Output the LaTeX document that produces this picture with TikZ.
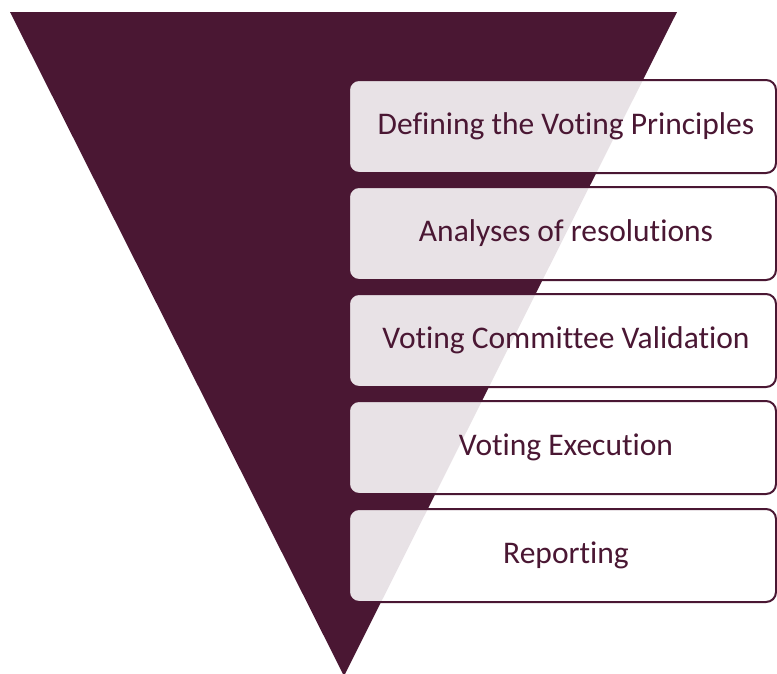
\documentclass[tikz,border=0pt]{standalone}
\usepackage{fontspec}
\setmainfont{Carlito}[Ligatures=NoCommon]
\definecolor{maroon}{RGB}{74,23,51}
\begin{document}
\begin{tikzpicture}[x=1pt,y=-1pt,
  stagebox/.style={draw=maroon,line width=2pt,fill=white,fill opacity=0.88,
    rounded corners=10pt,minimum width=427pt,minimum height=93pt,
    anchor=north west,inner sep=0pt,outer sep=0pt},
  stagetext/.style={text=maroon,font=\fontsize{31.5}{36}\selectfont,inner sep=0pt}]
\useasboundingbox (0,0) rectangle (777,673);
\fill[maroon] (10,12) -- (677,12) -- (344,676) -- cycle;
\node[stagebox] (b1) at (349,80) {};
\node[stagebox] (b2) at (349,187) {};
\node[stagebox] (b3) at (349,294) {};
\node[stagebox] (b4) at (349,401) {};
\node[stagebox] (b5) at (349,509) {};
\node[stagetext] (t1) at (566,126) {Defining the Voting Principles};
\node[stagetext] (t2) at (566,233) {Analyses of resolutions};
\node[stagetext] (t3) at (566,340) {Voting Committee Validation};
\node[stagetext] (t4) at (566,447) {Voting Execution};
\node[stagetext] (t5) at (566,555) {Reporting};
\end{tikzpicture}
\end{document}
